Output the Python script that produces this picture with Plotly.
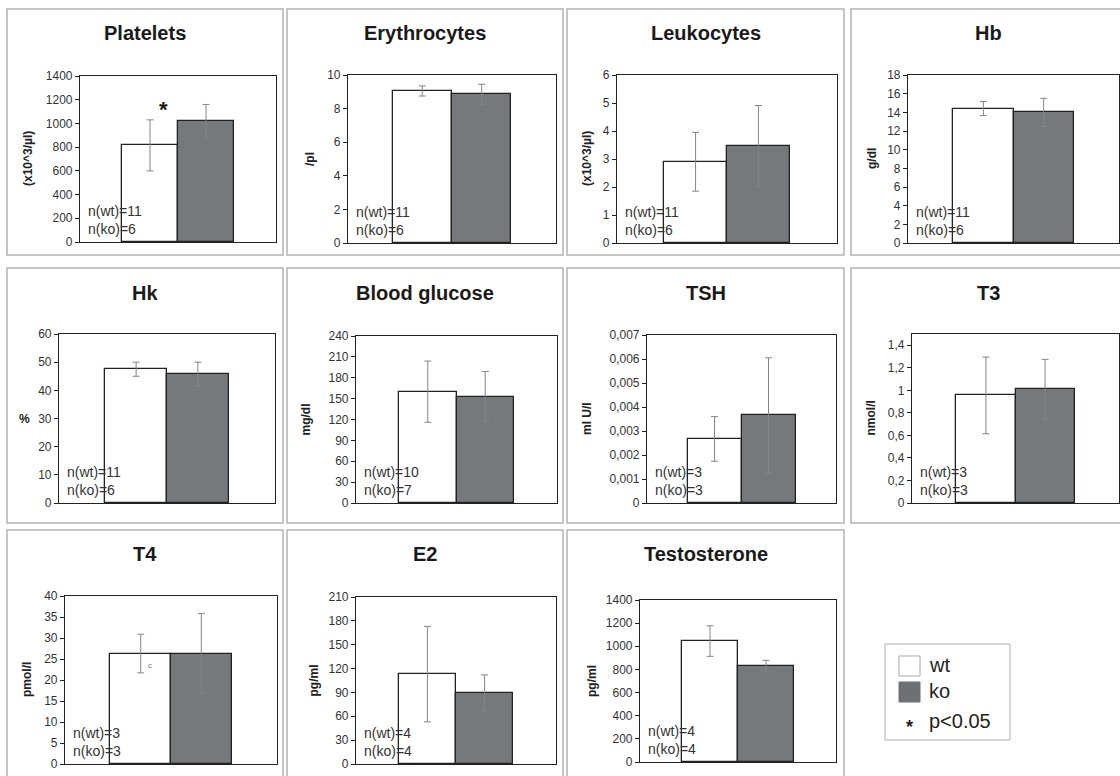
import plotly.graph_objects as go

W, H = 1120, 776
FONT = "Arial, Liberation Sans, sans-serif"

# ---------------- data ----------------
titles = ["Platelets", "Erythrocytes", "Leukocytes", "Hb", "Hk", "Blood glucose",
          "TSH", "T3", "T4", "E2", "Testosterone"]
units = ["(x10^3/µl)", "/pl", "(x10^3/µl)", "g/dl", "%", "mg/dl",
         "ml U/l", "nmol/l", "pmol/l", "pg/ml", "pg/ml"]
groups = ["wt", "ko"]
wt_mean = [815, 9.05, 2.9, 14.4, 47.5, 160, 0.00267, 0.955, 26.3, 113, 1045]
wt_err = [215, 0.3, 1.05, 0.75, 2.5, 44, 0.00093, 0.34, 4.6, 60, 132]
ko_mean = [1020, 8.85, 3.47, 14.0, 45.8, 153, 0.00365, 1.01, 26.3, 89.5, 833]
ko_err = [140, 0.6, 1.44, 1.5, 4.2, 36, 0.0024, 0.265, 9.5, 22.5, 46]
n_wt = [11, 11, 11, 11, 11, 10, 3, 3, 3, 4, 4]
n_ko = [6, 6, 6, 6, 6, 7, 3, 3, 3, 4, 4]
significant = [True, False, False, False, False, False, False, False, False, False, False]
y_max = [1400, 10, 6, 18, 60, 240, 0.007, 1.5, 40, 210, 1400]
y_dtick = [200, 2, 1, 2, 10, 30, 0.001, 0.2, 5, 30, 200]
legend_labels = ["wt", "ko", "p<0.05"]

# ---------------- layout (pixels) ----------------
plot_px = [(80, 76, 276, 242), (348, 75, 556, 243), (617, 75, 837, 243), (908, 75, 1119, 243),
           (59, 334, 275, 503), (356, 336, 557, 503), (647, 335, 836, 503), (912, 334, 1119, 503),
           (65, 596, 277, 764), (356, 597, 556, 764), (640, 600, 836, 762)]
col_x = [(7, 283), (287, 563), (567, 844), (851, 1125)]
row_y = [(9, 255), (268, 523), (530, 790)]
title_y = [33, 293, 554]
ytitle_x = [28, 310, 587, 872, 24, 305, 587, 870, 27, 313, 592]

WT_COLOR = "white"
KO_COLOR = "#76797c"
EDGE = "#222222"


def px(x):
    return x / W


def py(y):
    return 1 - y / H


def fmt(v):
    s = f"{round(v, 6):g}"
    return s.replace(".", ",")


fig = go.Figure()
shapes = []
annotations = []

for i in range(len(titles)):
    r, c = divmod(i, 4)
    l, t, rr, b = plot_px[i]
    ax = "" if i == 0 else str(i + 1)
    fig.add_trace(go.Bar(
        x=groups, y=[wt_mean[i], ko_mean[i]], width=1,
        marker=dict(color=[WT_COLOR, KO_COLOR], line=dict(color=EDGE, width=1.3)),
        error_y=dict(type="data", array=[wt_err[i], ko_err[i]], color="#858585",
                     thickness=1, width=3.5),
        xaxis="x" + ax, yaxis="y" + ax, showlegend=False, hoverinfo="skip"))

    nt = int(round(y_max[i] / y_dtick[i] + 1e-9))
    tv = [round(k * y_dtick[i], 6) for k in range(nt + 1) if k * y_dtick[i] <= y_max[i] + 1e-9]
    fig.layout["xaxis" + ax] = dict(
        domain=[px(l), px(rr)], anchor="y" + ax, range=[-1.25, 2.25], type="category",
        showline=True, mirror=True, linecolor=EDGE, linewidth=1.2, automargin=False,
        showticklabels=False, ticks="", showgrid=False, zeroline=False, fixedrange=True)
    fig.layout["yaxis" + ax] = dict(
        domain=[py(b), py(t)], anchor="x" + ax, range=[0, y_max[i]],
        showline=True, mirror=True, linecolor=EDGE, linewidth=1.2, automargin=False,
        ticks="outside", ticklen=4, tickcolor=EDGE, tickwidth=1,
        tickvals=tv, ticktext=[fmt(v) for v in tv],
        tickfont=dict(family=FONT, size=12, color="#333"),
        showgrid=False, zeroline=False, fixedrange=True)

    # panel border
    x0, x1 = col_x[c]
    y0, y1 = row_y[r]
    shapes.append(dict(type="rect", xref="paper", yref="paper",
                       x0=px(x0), x1=px(x1), y0=py(y1), y1=py(y0),
                       line=dict(color="#b3b3b3", width=1.5), fillcolor="rgba(0,0,0,0)", layer="below"))
    # title
    annotations.append(dict(text="<b>" + titles[i] + "</b>", xref="paper", yref="paper",
                            x=px((x0 + x1) / 2), y=py(title_y[r]), xanchor="center", yanchor="middle",
                            showarrow=False, font=dict(family=FONT, size=20, color="#1a1a1a")))
    # y axis title
    if units[i] == "%":
        annotations.append(dict(text="<b>%</b>", xref="paper", yref="y" + ax + " domain",
                                x=px(ytitle_x[i]), y=0.5, xanchor="center", yanchor="middle",
                                showarrow=False, font=dict(family=FONT, size=12, color="#222")))
    else:
        annotations.append(dict(text="<b>" + units[i] + "</b>", xref="paper", yref="paper",
                                x=px(ytitle_x[i]), y=py((t + b) / 2), xanchor="center", yanchor="middle",
                                textangle=-90, showarrow=False,
                                font=dict(family=FONT, size=12, color="#222")))
    # n annotation
    annotations.append(dict(text=f"n(wt)={n_wt[i]}<br>n(ko)={n_ko[i]}", xref="paper", yref="paper",
                            x=px(l + 6), y=py(b - 3), xanchor="left", yanchor="bottom", align="left",
                            showarrow=False, font=dict(family=FONT, size=14, color="#333")))
    if significant[i]:
        annotations.append(dict(text="<b>*</b>", xref="x" + ax, yref="y" + ax,
                                x=0.24, y=y_max[i] * 0.82, xanchor="center", yanchor="middle",
                                yshift=-4, showarrow=False,
                                font=dict(family=FONT, size=22, color="#1a1a1a")))

# small artifact "c" in T4 panel
annotations.append(dict(text="c", xref="x9", yref="y9", x=0.16, y=23.5, showarrow=False,
                        font=dict(family=FONT, size=8, color="#777")))

# legend
shapes.append(dict(type="rect", xref="paper", yref="paper", x0=px(885), x1=px(1010),
                   y0=py(740), y1=py(644), line=dict(color="#b0b0b0", width=1)))
shapes.append(dict(type="rect", xref="paper", yref="paper", x0=px(899), x1=px(920),
                   y0=py(676), y1=py(656), fillcolor=WT_COLOR, line=dict(color="#aaaaaa", width=1)))
shapes.append(dict(type="rect", xref="paper", yref="paper", x0=px(899), x1=px(920),
                   y0=py(702), y1=py(682), fillcolor="#6e7174", line=dict(color="#6e7174", width=1)))
for lab, yy in zip(legend_labels, [665, 691, 721]):
    annotations.append(dict(text=lab, xref="paper", yref="paper", x=px(927), y=py(yy),
                            xanchor="left", yanchor="middle", showarrow=False,
                            font=dict(family=FONT, size=20, color="#222")))
annotations.append(dict(text="<b>*</b>", xref="paper", yref="paper", x=px(909), y=py(727),
                        xanchor="center", yanchor="middle", showarrow=False,
                        font=dict(family=FONT, size=18, color="#222")))

fig.update_layout(template="none", width=W, height=H,
                  margin=dict(l=0, r=0, t=0, b=0, pad=0, autoexpand=False),
                  paper_bgcolor="white", plot_bgcolor="white", bargap=0,
                  shapes=shapes, annotations=annotations, showlegend=False,
                  font=dict(family=FONT))
post = ("document.documentElement.style.margin='0';document.body.style.margin='0';"
        "document.body.style.padding='0';document.body.style.overflow='hidden';"
        "document.documentElement.style.overflow='hidden';"
        "var gd=document.getElementById('{plot_id}');gd.style.position='fixed';"
        "gd.style.left='0px';gd.style.top='0px';")
fig.write_html("out.html", config={"displayModeBar": False}, post_script=post)
